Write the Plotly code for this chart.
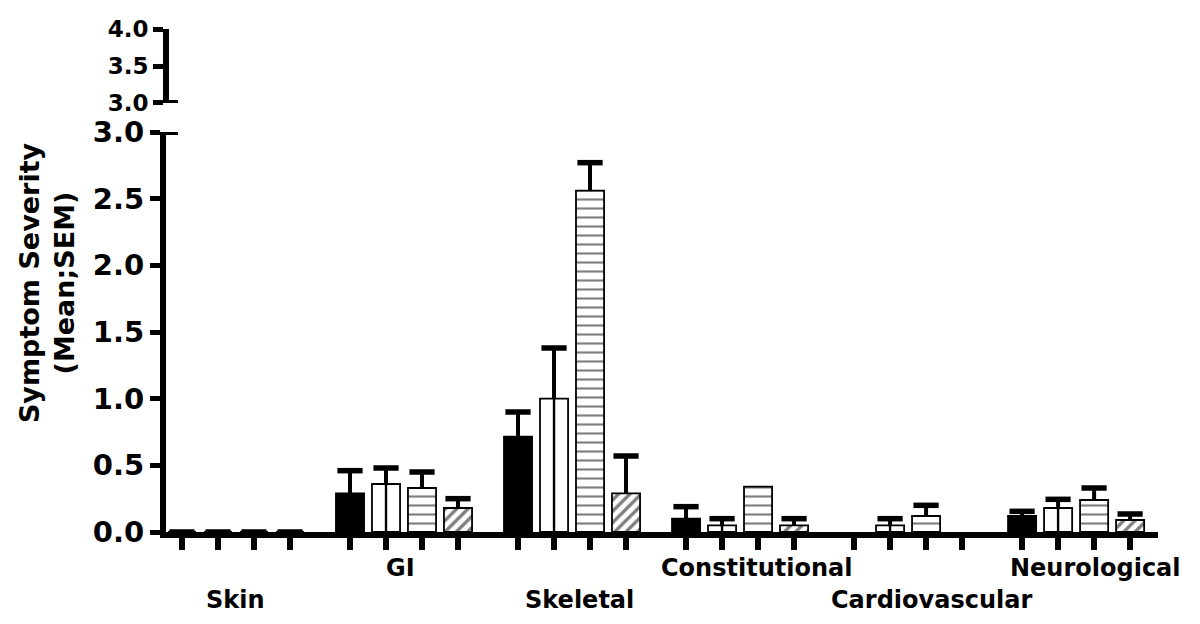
import plotly.graph_objects as go

# ---------------- data ----------------
categories = ["Skin", "GI", "Skeletal", "Constitutional", "Cardiovascular", "Neurological"]

black_mean = [0.0, 0.29, 0.715, 0.10, None, 0.12]
black_sem = [0.0, 0.17, 0.185, 0.09, None, 0.035]

white_mean = [0.0, 0.36, 1.00, 0.05, 0.05, 0.18]
white_sem = [0.0, 0.12, 0.38, 0.05, 0.05, 0.065]

hstripe_mean = [0.0, 0.33, 2.56, 0.34, 0.12, 0.24]
hstripe_sem = [0.0, 0.12, 0.21, None, 0.08, 0.09]

hatch_mean = [0.0, 0.18, 0.29, 0.05, None, 0.09]
hatch_sem = [0.0, 0.07, 0.28, 0.05, None, 0.045]

y_main_ticks = [0.0, 0.5, 1.0, 1.5, 2.0, 2.5, 3.0]
y_upper_ticks = [3.0, 3.5, 4.0]

# ---------------- layout constants ----------------
GROUP_STEP = 4.667      # distance between groups in bar slots
BAR_W = 0.78
FONT = "DejaVu Sans"
LABEL_ROW = [1, 0, 1, 0, 1, 0]          # 1 = lower row, 0 = upper row
LABEL_DX = [0.0, -0.1, 0.2, 0.45, 0.65, 0.55]


def xpos(slot):
    return [g * GROUP_STEP + slot for g in range(len(categories))]


series = [
    dict(mean=black_mean, sem=black_sem, color="black", pattern=None),
    dict(mean=white_mean, sem=white_sem, color="white", pattern=None),
    dict(mean=hstripe_mean, sem=hstripe_sem, color="white",
         pattern=dict(shape="-", size=9, solidity=0.24, fgcolor="black", bgcolor="white")),
    dict(mean=hatch_mean, sem=hatch_sem, color="white",
         pattern=dict(shape="/", size=8, solidity=0.42, fgcolor="black", bgcolor="white")),
]

fig = go.Figure()

for i, s in enumerate(series):
    xs = xpos(i)
    marker = dict(color=s["color"], line=dict(color="black", width=1.8))
    if s["pattern"] is not None:
        marker["pattern"] = s["pattern"]
    fig.add_trace(go.Bar(
        x=xs, y=s["mean"], width=BAR_W, marker=marker,
        error_y=dict(type="data", symmetric=False,
                     array=[e if e is not None else None for e in s["sem"]],
                     arrayminus=[0 if e is not None else None for e in s["sem"]],
                     width=0, thickness=4, color="black"),
        showlegend=False, hoverinfo="skip",
    ))
    # caps of the error bars
    cap_x, cap_y = [], []
    for x, m, e in zip(xs, s["mean"], s["sem"]):
        if m is not None and e is not None:
            cap_x.append(x)
            cap_y.append(m + e)
    fig.add_trace(go.Scatter(
        x=cap_x, y=cap_y, mode="markers",
        marker=dict(symbol="line-ew", size=18, line=dict(color="black", width=5.5)),
        showlegend=False, hoverinfo="skip",
    ))

# thin central line inside the open (white) bars
wx = xpos(1)
fig.add_trace(go.Scatter(
    x=wx, y=white_mean, mode="markers",
    marker=dict(size=1, opacity=0),
    error_y=dict(type="data", symmetric=False, array=[0] * len(white_mean),
                 arrayminus=white_mean, width=0, thickness=2.4, color="black"),
    showlegend=False, hoverinfo="skip",
))

# invisible trace on upper axis so it renders
fig.add_trace(go.Scatter(x=[0], y=[3.5], yaxis="y2", mode="markers",
                         marker=dict(opacity=0), showlegend=False, hoverinfo="skip"))

all_x = [x for i in range(4) for x in xpos(i)]

# page body has an 8px margin: figure is 1184x608 so it fits the 1200x624 window
fig.update_layout(
    width=1184, height=608,
    margin=dict(l=158, r=34, t=12, b=84),
    paper_bgcolor="white", plot_bgcolor="white",
    barmode="overlay",
    font=dict(family=FONT, color="black", weight="bold"),
    xaxis=dict(
        range=[-0.444, 27.11], showgrid=False, zeroline=False, automargin=False,
        showline=True, linecolor="black", linewidth=6,
        tickmode="array", tickvals=all_x, ticktext=[""] * len(all_x),
        ticks="outside", ticklen=12, tickwidth=6, tickcolor="black",
        anchor="y",
    ),
    yaxis=dict(
        domain=[0, 0.78125], range=[0, 3], showgrid=False, zeroline=False,
        automargin=False,
        showline=True, linecolor="black", linewidth=6,
        tickmode="array", tickvals=y_main_ticks, tickformat=".1f",
        ticks="outside", ticklen=10, tickwidth=5, tickcolor="black",
        tickfont=dict(family=FONT, size=29, color="black", weight="bold"),
    ),
    yaxis2=dict(
        domain=[0.8379, 0.9824], range=[3, 4], showgrid=False, zeroline=False,
        automargin=False,
        showline=True, linecolor="black", linewidth=6,
        tickmode="array", tickvals=y_upper_ticks, tickformat=".1f",
        ticks="outside", ticklen=10, tickwidth=5, tickcolor="black",
        tickfont=dict(family=FONT, size=23, color="black", weight="bold"),
        anchor="free", position=0,
    ),
)

# break marks
for yref in ["y", "y2"]:
    fig.add_shape(type="line", xref="paper", yref=yref, x0=-0.003, x1=0.012,
                  y0=3, y1=3, line=dict(color="black", width=6))

# group labels
for g, name in enumerate(categories):
    cx = g * GROUP_STEP + 1.5 + LABEL_DX[g]
    fig.add_annotation(
        x=cx, xref="x", y=-0.0703 if LABEL_ROW[g] == 0 else -0.1328, yref="paper",
        text=name, showarrow=False, xanchor="center", yanchor="middle",
        font=dict(family=FONT, size=24, color="black", weight="bold"),
    )

# y axis title
fig.add_annotation(
    x=-0.12, xref="paper", y=0.488, yref="paper",
    text="Symptom Severity<br>(Mean;SEM)", textangle=-90, showarrow=False,
    xanchor="center", yanchor="middle",
    font=dict(family=FONT, size=27, color="black", weight="bold"),
)

fig.write_html("out.html")
